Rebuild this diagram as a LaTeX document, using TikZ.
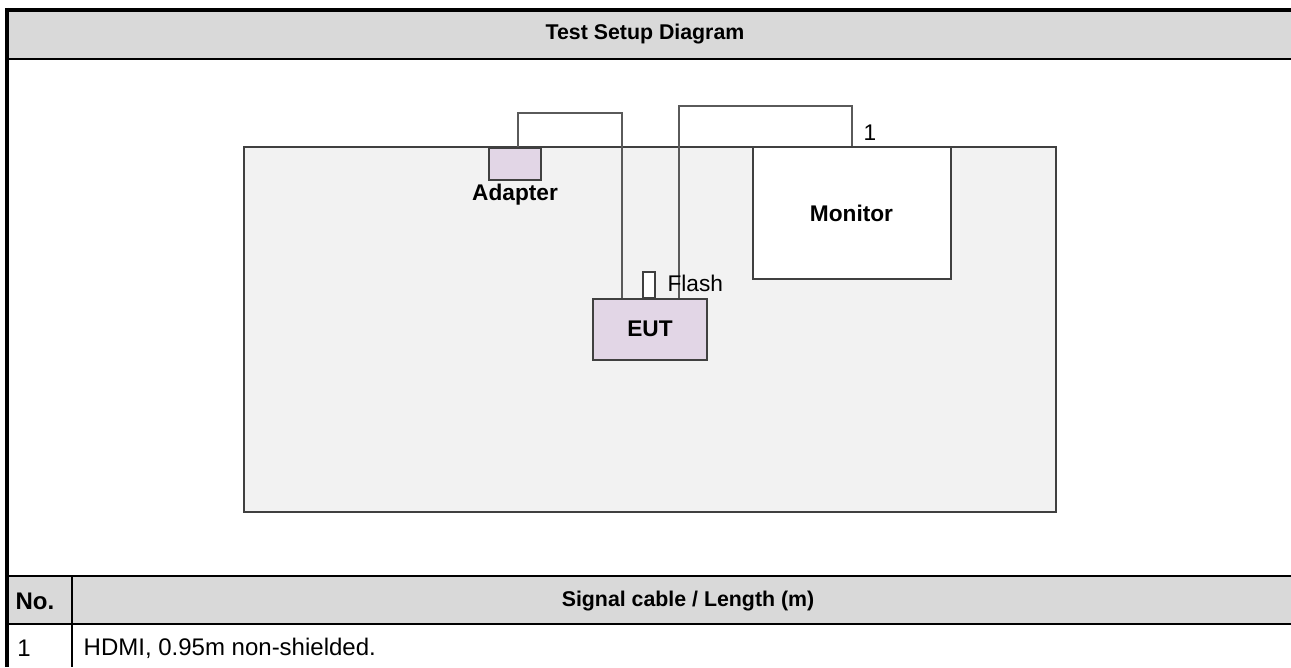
\documentclass[tikz,border=0pt]{standalone}
\usepackage{fontspec}
\setmainfont{Liberation Sans}
\usetikzlibrary{positioning}

\definecolor{headgray}{HTML}{D9D9D9}
\definecolor{benchgray}{HTML}{F2F2F2}
\definecolor{edgegray}{HTML}{404040}
\definecolor{cablegray}{HTML}{5A5A5A}
\definecolor{lilac}{HTML}{E2D6E6}

\begin{document}
\begin{tikzpicture}[
    x=0.75pt, y=-0.75pt,
    bench/.style={rectangle, draw=edgegray, line width=1.5pt, fill=benchgray, inner sep=0pt},
    unit/.style={rectangle, draw=edgegray, line width=1.5pt, fill=lilac, inner sep=0pt, font=\bfseries\fontsize{17}{20}\selectfont},
    screen/.style={rectangle, draw=edgegray, line width=1.5pt, fill=white, inner sep=0pt, font=\bfseries\fontsize{17}{20}\selectfont},
    cable/.style={draw=cablegray, line width=1.6pt},
    label/.style={font=\fontsize{17}{20}\selectfont, inner sep=1pt},
    head/.style={font=\bfseries\fontsize{16}{19}\selectfont},
    cell/.style={font=\fontsize{18}{21}\selectfont}
]
    \useasboundingbox (0,0) rectangle (1291,667);

    % Frame of the form
    \fill[headgray] (9,12) rectangle (1291,58);
    \fill[headgray] (9,577) rectangle (1291,623);
    \draw[line width=3pt] (5,10) -- (1291,10);
    \draw[line width=3pt] (7,8) -- (7,667);
    \draw[line width=1.5pt] (9,59) -- (1291,59);
    \draw[line width=1.2pt] (9,576) -- (1291,576);
    \draw[line width=2pt] (9,624) -- (1291,624);
    \draw[line width=1.2pt] (72,576) -- (72,667);

    % Texts of the form
    \node[head] (title) at (645,34) {Test Setup Diagram};
    \node[head, font=\bfseries\fontsize{18}{21}\selectfont] (nohead) at (35,601) {No.};
    \node[head] (cablehead) at (688,601) {Signal cable / Length (m)};
    \node[cell] (no1) at (24,648) {1};
    \node[cell, anchor=west] (cable1) at (79,648) {HDMI, 0.95m non-shielded.};

    % Nodes
    \node[bench, minimum width=609pt, minimum height=273.75pt] (bench) at (650,329.5) {};
    \coordinate (c1a) at (518,113);
    \coordinate (c1b) at (622,113);
    \coordinate (c2a) at (679,106);
    \coordinate (c2b) at (852,106);

    \node[unit, minimum width=39pt, minimum height=24pt] (adapter) at (515,164) {};
    \node[screen, minimum width=148.5pt, minimum height=99pt] (monitor) at (851.5,213) {Monitor};
    \node[unit, minimum width=85.5pt, minimum height=45.75pt] (eut) at (650,329) {EUT};
    \node[rectangle, draw=edgegray, line width=1.2pt, fill=white, minimum width=9pt, minimum height=19.5pt, inner sep=0pt] (flash) at (649,285) {};

    % Cables
    \draw[cable] (c1a |- adapter.north) -- (c1a) -- (c1b) -- (c1b |- eut.north);
    \draw[cable] (c2a |- eut.north) -- (c2a) -- (c2b) -- (c2b |- monitor.north);

    % Labels
    \node[label, font=\bfseries\fontsize{17}{20}\selectfont, below=1pt of adapter] (adapterlbl) {Adapter};
    \node[label, anchor=west] (flashlbl) at (666,283) {Flash};
    \node[label] (num1) at (870,133) {1};
\end{tikzpicture}
\end{document}
